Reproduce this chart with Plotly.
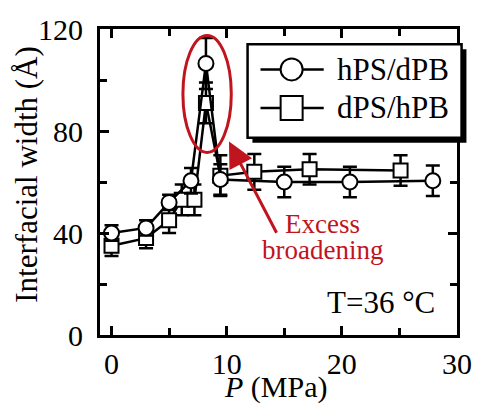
import plotly.graph_objects as go

# hPS/dPB (circles)
p_circ = [0, 3, 5, 6.9, 8.2, 9.45, 15, 20.7, 27.9]
w_circ = [40, 42, 52, 60.5, 106.5, 61, 60, 60, 60.5]
e_circ = [3, 3, 3, 5, 10, 6, 6, 6, 6]

# dPS/hPB (squares)
p_sq = [0, 3, 5, 6.1, 7.2, 8.2, 9.45, 12.4, 17.2, 25.1]
w_sq = [35, 38, 45, 53, 53, 91, 62.5, 64, 65, 64.5]
e_sq = [4, 4, 5, 6, 6, 8, 8, 7, 6, 6]

legend_names = ["hPS/dPB", "dPS/hPB"]

FONT = "Liberation Serif, Times New Roman, serif"
RED = "#c0141e"

fig = go.Figure()
fig.add_trace(go.Scatter(
    x=p_sq, y=w_sq, mode="lines+markers", name=legend_names[1],
    line=dict(color="black", width=2.5),
    marker=dict(symbol="square", size=14, color="white", line=dict(color="black", width=2)),
    error_y=dict(type="data", array=e_sq, color="black", thickness=2.5, width=7),
))
fig.add_trace(go.Scatter(
    x=p_circ, y=w_circ, mode="lines+markers", name=legend_names[0],
    line=dict(color="black", width=2.5),
    marker=dict(symbol="circle", size=15, color="white", line=dict(color="black", width=2)),
    error_y=dict(type="data", array=e_circ, color="black", thickness=2.5, width=7),
))

axis_common = dict(
    showline=True, linecolor="black", linewidth=3, mirror="ticks",
    ticks="inside", ticklen=9, tickwidth=3, tickcolor="black",
    showgrid=False, zeroline=False,
    tickfont=dict(family=FONT, size=30, color="black"),
)

fig.update_xaxes(range=[-1, 30], tickvals=[0, 10, 20, 30],
                 minor=dict(ticks="inside", tickvals=[5, 15, 25], ticklen=7, tickwidth=3, tickcolor="black"),
                 ticklabelstandoff=0, **axis_common)
fig.update_yaxes(range=[0, 120], tickvals=[0, 40, 80, 120],
                 minor=dict(ticks="inside", tickvals=[20, 60, 100], ticklen=7, tickwidth=3, tickcolor="black"),
                 ticklabelstandoff=8, **axis_common)

shapes = []
# red ellipse
shapes.append(dict(type="circle", xref="x", yref="y", x0=6.2, x1=10.4, y0=71.6, y1=117.5,
                   line=dict(color=RED, width=3)))

# legend box with shadow (paper coords)
L, R, T, B = 251.7, 471.7, 37.7, 133.3
W, H = 484, 404
ml, mr, mt, mb = 100, 17, 22, 69
pw, ph = W - ml - mr, H - mt - mb
def px(xp):
    return (xp - ml) / pw
def py(yp):
    return 1 - (yp - mt) / ph
shapes.append(dict(type="rect", xref="paper", yref="paper",
                   x0=px(L + 5), x1=px(R + 5), y0=py(B + 5), y1=py(T + 5),
                   fillcolor="black", line=dict(width=0)))
shapes.append(dict(type="rect", xref="paper", yref="paper",
                   x0=px(L), x1=px(R), y0=py(B), y1=py(T),
                   fillcolor="white", line=dict(color="black", width=2.5)))
ys = [63.3, 102.7]
for yy in ys:
    shapes.append(dict(type="line", xref="paper", yref="paper",
                       x0=px(265), x1=px(330), y0=py(yy), y1=py(yy),
                       line=dict(color="black", width=2.5)))
shapes.append(dict(type="circle", xref="paper", yref="paper", xsizemode="pixel", ysizemode="pixel",
                   xanchor=px(297), yanchor=py(ys[0]), x0=-11, x1=11, y0=-11, y1=11,
                   fillcolor="white", line=dict(color="black", width=2)))
shapes.append(dict(type="rect", xref="paper", yref="paper", xsizemode="pixel", ysizemode="pixel",
                   xanchor=px(297), yanchor=py(ys[1]), x0=-11, x1=11, y0=-12, y1=12,
                   fillcolor="white", line=dict(color="black", width=2)))

annotations = []
for name, yy in zip(legend_names, ys):
    annotations.append(dict(xref="paper", yref="paper", x=px(342), y=py(yy), text=name,
                            xanchor="left", yanchor="middle", showarrow=False,
                            font=dict(family=FONT, size=31, color="black")))

# arrow
annotations.append(dict(xref="x", yref="y", axref="x", ayref="y", x=10.2, y=75.9, ax=14.4, ay=39.5,
                        text="", showarrow=True, arrowhead=2, arrowsize=1.7, arrowwidth=3,
                        arrowcolor=RED))
annotations.append(dict(xref="x", yref="y", x=18.3, y=43.5, text="Excess", showarrow=False,
                        xanchor="center", yanchor="middle", font=dict(family=FONT, size=27, color=RED)))
annotations.append(dict(xref="x", yref="y", x=18.3, y=33.2, text="broadening", showarrow=False,
                        xanchor="center", yanchor="middle", font=dict(family=FONT, size=27, color=RED)))
annotations.append(dict(xref="x", yref="y", x=23.4, y=12.7, text="T=36 °C", showarrow=False,
                        xanchor="center", yanchor="middle", font=dict(family=FONT, size=31, color="black")))
# axis titles
annotations.append(dict(xref="paper", yref="paper", x=px(280), y=py(388), text="<i>P</i> (MPa)",
                        showarrow=False, xanchor="center", yanchor="middle",
                        font=dict(family=FONT, size=30, color="black")))
annotations.append(dict(xref="paper", yref="paper", x=px(25), y=py(171), text="Interfacial width (Å)",
                        textangle=-90, showarrow=False, xanchor="center", yanchor="middle",
                        font=dict(family=FONT, size=31, color="black")))

fig.update_layout(
    width=W, height=H, margin=dict(l=ml, r=mr, t=mt, b=mb),
    paper_bgcolor="white", plot_bgcolor="white", showlegend=False,
    shapes=shapes, annotations=annotations,
)

fig.write_html("out.html")
